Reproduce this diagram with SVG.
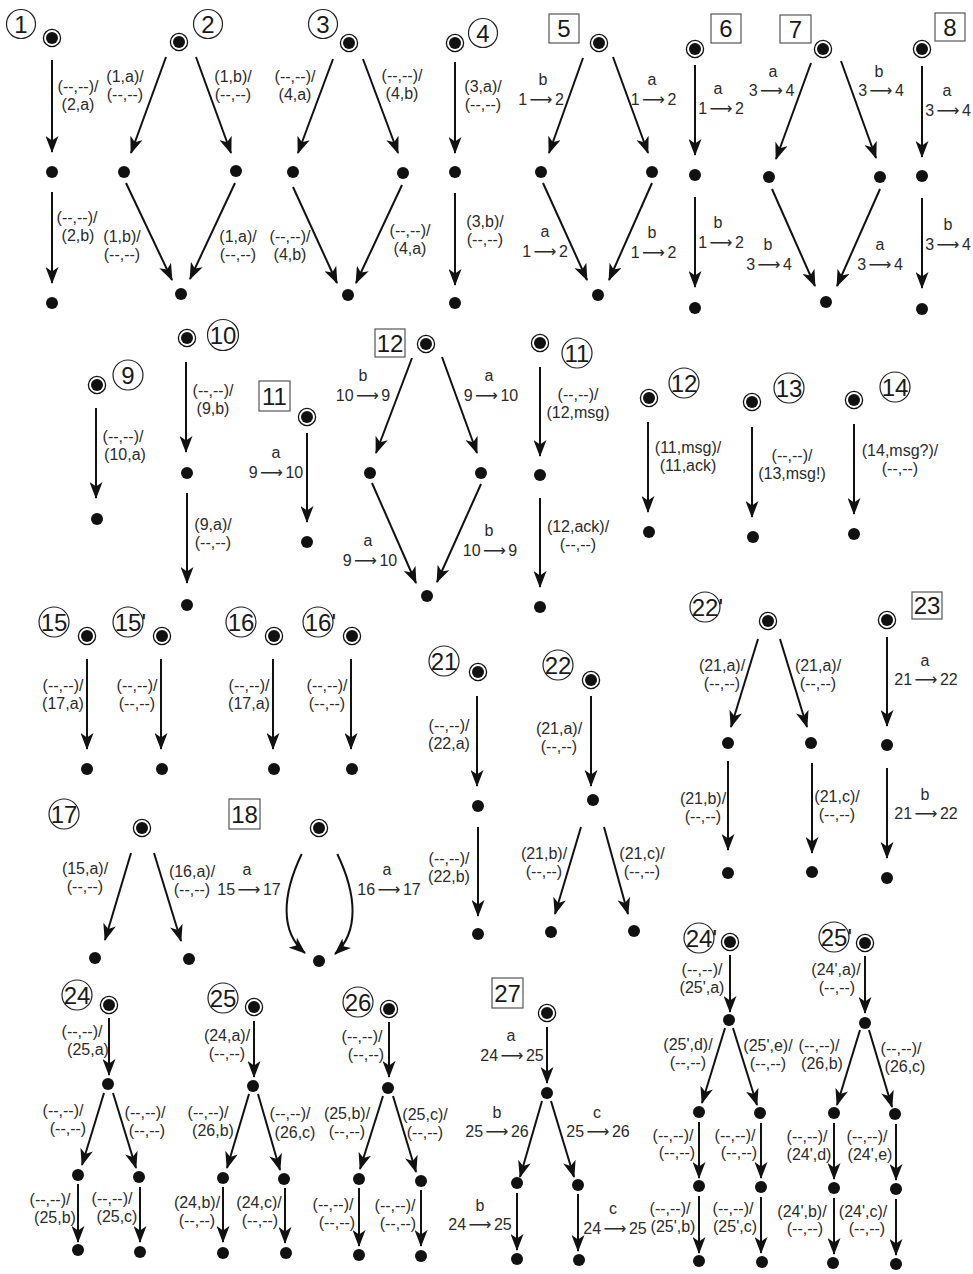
<svg xmlns="http://www.w3.org/2000/svg" xmlns:xlink="http://www.w3.org/1999/xlink" width="973" height="1274" viewBox="0 0 973 1274">
<style>
.t{font-family:"Liberation Sans",Arial,sans-serif;font-size:16px;fill:#2b2b2b;text-anchor:middle}
.w{word-spacing:-2px}
.ar{font-family:"DejaVu Sans",sans-serif;font-size:16px}
.n{font-family:"Liberation Sans",Arial,sans-serif;font-size:24px;fill:#1a1a1a;text-anchor:middle}
.ns{font-family:"Liberation Sans",Arial,sans-serif;font-size:24px;fill:#1a1a1a}
.lc{fill:none;stroke:#222;stroke-width:1.2}
.sq{fill:none;stroke:#555;stroke-width:1.2}
.e{stroke:#111;stroke-width:2;fill:none;marker-end:url(#ah)}
</style>
<defs>
<marker id="ah" viewBox="0 0 17 13" refX="16" refY="6.5" markerWidth="17" markerHeight="13" orient="auto" markerUnits="userSpaceOnUse"><path d="M17,6.5 L0,0 L4.5,6.5 L0,13 Z" fill="#111"/></marker>
<g id="ini"><circle r="8.6" fill="#fff" stroke="#111" stroke-width="1.3"/><circle r="6" fill="#111"/></g>
<circle id="dot" r="6" fill="#111"/>
</defs>
<rect width="973" height="1274" fill="#fff"/>

<g id="labels">
<g id="L1"><circle class="lc" cx="21" cy="24" r="14.5"/><text class="n" x="21" y="32.5">1</text></g>
<g id="L2"><circle class="lc" cx="208" cy="24" r="14.5"/><text class="n" x="208" y="32.5">2</text></g>
<g id="L3"><circle class="lc" cx="323" cy="24" r="14.5"/><text class="n" x="323" y="32.5">3</text></g>
<g id="L4"><circle class="lc" cx="483" cy="33" r="14.5"/><text class="n" x="483" y="41.5">4</text></g>
<g id="L5"><rect class="sq" x="549" y="14" width="30" height="29"/><text class="n" x="564" y="37">5</text></g>
<g id="L6"><rect class="sq" x="711" y="14" width="30" height="29"/><text class="n" x="726" y="37">6</text></g>
<g id="L7"><rect class="sq" x="780" y="15" width="31" height="28"/><text class="n" x="795.5" y="37.5">7</text></g>
<g id="L8"><rect class="sq" x="935" y="13" width="30" height="28"/><text class="n" x="950" y="35.5">8</text></g>
<g id="L9"><circle class="lc" cx="128" cy="375" r="15"/><text class="n" x="128" y="383.5">9</text></g>
<g id="L10"><circle class="lc" cx="223" cy="335" r="15.5"/><text class="n" x="223" y="343.5">10</text></g>
<g id="L11s"><rect class="sq" x="259" y="381" width="31" height="30"/><text class="n" x="274.5" y="404.5">11</text></g>
<g id="L12s"><rect class="sq" x="375" y="329" width="30" height="28"/><text class="n" x="390" y="351.5">12</text></g>
<g id="L11c"><circle class="lc" cx="577" cy="353" r="15"/><text class="n" x="577" y="361.5">11</text></g>
<g id="L12c"><circle class="lc" cx="684" cy="383" r="15"/><text class="n" x="684" y="391.5">12</text></g>
<g id="L13"><circle class="lc" cx="789" cy="388" r="15"/><text class="n" x="789" y="396.5">13</text></g>
<g id="L14"><circle class="lc" cx="895" cy="387" r="15"/><text class="n" x="895" y="395.5">14</text></g>
<g id="L15"><circle class="lc" cx="54" cy="622" r="15"/><text class="n" x="54" y="630.5">15</text></g>
<g id="L15p"><circle class="lc" cx="128" cy="622" r="15"/><text class="ns" x="114.7" y="630.5">15'</text></g>
<g id="L16"><circle class="lc" cx="241" cy="622" r="15"/><text class="n" x="241" y="630.5">16</text></g>
<g id="L16p"><circle class="lc" cx="318" cy="622" r="15"/><text class="ns" x="304.7" y="630.5">16'</text></g>
<g id="L17"><circle class="lc" cx="64" cy="814" r="15"/><text class="n" x="64" y="822.5">17</text></g>
<g id="L18"><rect class="sq" x="229" y="799" width="31" height="30"/><text class="n" x="244.5" y="822.5">18</text></g>
<g id="L21"><circle class="lc" cx="444" cy="661" r="15"/><text class="n" x="444" y="669.5">21</text></g>
<g id="L22"><circle class="lc" cx="558" cy="665" r="15"/><text class="n" x="558" y="673.5">22</text></g>
<g id="L22p"><circle class="lc" cx="705" cy="607" r="15"/><text class="ns" x="691.7" y="615.5">22'</text></g>
<g id="L23"><rect class="sq" x="912" y="592" width="30" height="27"/><text class="n" x="927" y="614">23</text></g>
<g id="L24"><circle class="lc" cx="77" cy="995" r="15"/><text class="n" x="77" y="1003.5">24</text></g>
<g id="L25"><circle class="lc" cx="223" cy="998" r="15"/><text class="n" x="223" y="1006.5">25</text></g>
<g id="L26"><circle class="lc" cx="358" cy="1002" r="15"/><text class="n" x="358" y="1010.5">26</text></g>
<g id="L27"><rect class="sq" x="492" y="978" width="31" height="30"/><text class="n" x="507.5" y="1001.5">27</text></g>
<g id="L24p"><circle class="lc" cx="699" cy="938" r="15"/><text class="ns" x="685.7" y="946.5">24'</text></g>
<g id="L25p"><circle class="lc" cx="834" cy="937" r="15"/><text class="ns" x="820.7" y="945.5">25'</text></g>
</g>

<g id="connectors">
<path class="e" d="M52,60L52,152"/><path class="e" d="M52,192L52,283"/>
<path class="e" d="M166,57L131,153"/><path class="e" d="M196,57L231,153"/><path class="e" d="M126,183L172,280"/><path class="e" d="M235,183L190,279"/>
<path class="e" d="M333,59L298,153"/><path class="e" d="M363,59L398,153"/><path class="e" d="M293,187L337,283"/><path class="e" d="M402,185L356,283"/>
<path class="e" d="M455,62L455,153"/><path class="e" d="M455,193L455,285"/>
<path class="e" d="M583,58L549,153"/><path class="e" d="M613,57L648,153"/><path class="e" d="M543,183L587,280"/><path class="e" d="M652,183L609,280"/>
<path class="e" d="M695,65L695,155"/><path class="e" d="M695,197L695,287"/>
<path class="e" d="M811,63L776,159"/><path class="e" d="M841,61L876,158"/><path class="e" d="M772,189L815,286"/><path class="e" d="M880,189L837,286"/>
<path class="e" d="M922,66L922,157"/><path class="e" d="M922,198L922,288"/>
<path class="e" d="M96,408L96,498"/>
<path class="e" d="M186,362L186,452"/><path class="e" d="M187,493L187,583"/>
<path class="e" d="M307,433L307,522"/>
<path class="e" d="M412,358L376,453"/><path class="e" d="M442,357L477,453"/><path class="e" d="M372,483L416,583"/><path class="e" d="M481,484L437,582"/>
<path class="e" d="M540,367L540,456"/><path class="e" d="M540,498L540,587"/>
<path class="e" d="M648,422L648,512"/>
<path class="e" d="M752,427L752,517"/>
<path class="e" d="M854,424L854,514"/>
<path class="e" d="M87,659L87,749"/><path class="e" d="M161,659L161,749"/><path class="e" d="M273,659L273,749"/><path class="e" d="M351,659L351,749"/>
<path class="e" d="M131,853L105,940"/><path class="e" d="M154,853L181,941"/>
<path class="e" d="M301.7,854C282,895 280,932 305,953"/><path class="e" d="M337.3,854C357,895 359,932 335,954"/>
<path class="e" d="M477,696L477,786"/><path class="e" d="M478,827L478,916"/>
<path class="e" d="M591,696L591,786"/><path class="e" d="M581,827L555,914"/><path class="e" d="M604,827L628,914"/>
<path class="e" d="M758,639L731,727"/><path class="e" d="M780,639L807,727"/><path class="e" d="M728,761L728,850"/><path class="e" d="M812,763L812,853"/>
<path class="e" d="M887,637L887,726"/><path class="e" d="M887,768L887,858"/>
<path class="e" d="M109,1018L109,1075"/><path class="e" d="M104,1093L82,1165"/><path class="e" d="M113,1093L136,1168"/><path class="e" d="M78,1184L78,1242"/><path class="e" d="M140,1187L140,1242"/>
<path class="e" d="M254,1021L254,1077"/><path class="e" d="M249,1094L227,1168"/><path class="e" d="M258,1094L280,1170"/><path class="e" d="M223,1187L223,1242"/><path class="e" d="M285,1188L285,1243"/>
<path class="e" d="M389,1022L389,1077"/><path class="e" d="M383,1096L360,1169"/><path class="e" d="M393,1096L416,1172"/><path class="e" d="M359,1188L359,1246"/><path class="e" d="M421,1190L421,1246"/>
<path class="e" d="M547,1027L547,1083"/><path class="e" d="M542,1101L520,1177"/><path class="e" d="M551,1101L574,1177"/><path class="e" d="M517,1193L517,1250"/><path class="e" d="M578,1194L578,1251"/>
<path class="e" d="M730,955L730,1012"/><path class="e" d="M725,1028L702,1103"/><path class="e" d="M733,1028L757,1105"/><path class="e" d="M699,1122L699,1178"/><path class="e" d="M761,1123L761,1178"/><path class="e" d="M699,1196L699,1253"/><path class="e" d="M761,1197L761,1253"/>
<path class="e" d="M865,956L865,1013"/><path class="e" d="M860,1030L837,1105"/><path class="e" d="M869,1030L892,1107"/><path class="e" d="M834,1123L834,1179"/><path class="e" d="M896,1124L896,1180"/><path class="e" d="M834,1198L834,1254"/><path class="e" d="M896,1199L896,1255"/>
</g>

<g id="edge-labels">
<text class="t" x="78" y="92">(--,--)/</text><text class="t" x="78" y="110">(2,a)</text>
<text class="t" x="77" y="223">(--,--)/</text><text class="t" x="78" y="241">(2,b)</text>
<text class="t" x="125" y="81.5">(1,a)/</text><text class="t" x="125" y="99.5">(--,--)</text>
<text class="t" x="233" y="81.5">(1,b)/</text><text class="t" x="233" y="99.5">(--,--)</text>
<text class="t" x="122" y="241.5">(1,b)/</text><text class="t" x="122" y="259.5">(--,--)</text>
<text class="t" x="238" y="241.5">(1,a)/</text><text class="t" x="238" y="259.5">(--,--)</text>
<text class="t" x="295" y="81.5">(--,--)/</text><text class="t" x="295" y="99.5">(4,a)</text>
<text class="t" x="402" y="80.5">(--,--)/</text><text class="t" x="402" y="98.5">(4,b)</text>
<text class="t" x="290" y="241.5">(--,--)/</text><text class="t" x="290" y="259.5">(4,b)</text>
<text class="t" x="410" y="236">(--,--)/</text><text class="t" x="410" y="254">(4,a)</text>
<text class="t" x="483" y="91.5">(3,a)/</text><text class="t" x="483" y="109.5">(--,--)</text>
<text class="t" x="485" y="226.5">(3,b)/</text><text class="t" x="485" y="244.5">(--,--)</text>
<text class="t" x="543" y="85">b</text><text class="t w" x="541" y="104.5">1 <tspan class="ar">⟶</tspan> 2</text>
<text class="t" x="652" y="85">a</text><text class="t w" x="653.5" y="104.5">1 <tspan class="ar">⟶</tspan> 2</text>
<text class="t" x="545" y="237">a</text><text class="t w" x="545" y="256.5">1 <tspan class="ar">⟶</tspan> 2</text>
<text class="t" x="652" y="238">b</text><text class="t w" x="653.5" y="257.5">1 <tspan class="ar">⟶</tspan> 2</text>
<text class="t" x="718" y="94">a</text><text class="t w" x="721" y="113.5">1 <tspan class="ar">⟶</tspan> 2</text>
<text class="t" x="718" y="228">b</text><text class="t w" x="721" y="247.5">1 <tspan class="ar">⟶</tspan> 2</text>
<text class="t" x="773" y="76.5">a</text><text class="t w" x="771.5" y="96">3 <tspan class="ar">⟶</tspan> 4</text>
<text class="t" x="879" y="76.5">b</text><text class="t w" x="881" y="96">3 <tspan class="ar">⟶</tspan> 4</text>
<text class="t" x="768" y="250">b</text><text class="t w" x="769" y="269.5">3 <tspan class="ar">⟶</tspan> 4</text>
<text class="t" x="880" y="250">a</text><text class="t w" x="880" y="269.5">3 <tspan class="ar">⟶</tspan> 4</text>
<text class="t" x="947" y="96">a</text><text class="t w" x="948" y="115.5">3 <tspan class="ar">⟶</tspan> 4</text>
<text class="t" x="948" y="230">b</text><text class="t w" x="948" y="249.5">3 <tspan class="ar">⟶</tspan> 4</text>
<text class="t" x="123" y="441.5">(--,--)/</text><text class="t" x="125" y="459.5">(10,a)</text>
<text class="t" x="213" y="395.5">(--,--)/</text><text class="t" x="213" y="413.5">(9,b)</text>
<text class="t" x="213" y="529.5">(9,a)/</text><text class="t" x="213" y="547.5">(--,--)</text>
<text class="t" x="276" y="458">a</text><text class="t w" x="276" y="477.5">9 <tspan class="ar">⟶</tspan> 10</text>
<text class="t" x="363" y="381">b</text><text class="t w" x="363" y="400.5">10 <tspan class="ar">⟶</tspan> 9</text>
<text class="t" x="489" y="381">a</text><text class="t w" x="491" y="400.5">9 <tspan class="ar">⟶</tspan> 10</text>
<text class="t" x="368" y="546">a</text><text class="t w" x="370" y="566">9 <tspan class="ar">⟶</tspan> 10</text>
<text class="t" x="489" y="536">b</text><text class="t w" x="490" y="555.5">10 <tspan class="ar">⟶</tspan> 9</text>
<text class="t" x="578" y="399.5">(--,--)/</text><text class="t" x="578" y="417.5">(12,msg)</text>
<text class="t" x="578" y="531.5">(12,ack)/</text><text class="t" x="578" y="549.5">(--,--)</text>
<text class="t" x="688" y="452.5">(11,msg)/</text><text class="t" x="688" y="470.5">(11,ack)</text>
<text class="t" x="792" y="460.5">(--,--)/</text><text class="t" x="792" y="478.5">(13,msg!)</text>
<text class="t" x="900" y="455.5">(14,msg?)/</text><text class="t" x="900" y="473.5">(--,--)</text>
<text class="t" x="63" y="690.5">(--,--)/</text><text class="t" x="63" y="708.5">(17,a)</text>
<text class="t" x="137" y="690.5">(--,--)/</text><text class="t" x="137" y="708.5">(--,--)</text>
<text class="t" x="249" y="690.5">(--,--)/</text><text class="t" x="249" y="708.5">(17,a)</text>
<text class="t" x="327" y="690.5">(--,--)/</text><text class="t" x="327" y="708.5">(--,--)</text>
<text class="t" x="85" y="873.5">(15,a)/</text><text class="t" x="85" y="891.5">(--,--)</text>
<text class="t" x="192" y="877">(16,a)/</text><text class="t" x="192" y="895">(--,--)</text>
<text class="t" x="247" y="875">a</text><text class="t w" x="249" y="894.5">15 <tspan class="ar">⟶</tspan> 17</text>
<text class="t" x="387" y="875">a</text><text class="t w" x="389" y="894.5">16 <tspan class="ar">⟶</tspan> 17</text>
<text class="t" x="449" y="730.5">(--,--)/</text><text class="t" x="449" y="748.5">(22,a)</text>
<text class="t" x="449" y="863.5">(--,--)/</text><text class="t" x="449" y="881.5">(22,b)</text>
<text class="t" x="559" y="733.5">(21,a)/</text><text class="t" x="559" y="751.5">(--,--)</text>
<text class="t" x="544" y="858.5">(21,b)/</text><text class="t" x="544" y="876.5">(--,--)</text>
<text class="t" x="642" y="858.5">(21,c)/</text><text class="t" x="642" y="876.5">(--,--)</text>
<text class="t" x="722" y="670.5">(21,a)/</text><text class="t" x="722" y="688.5">(--,--)</text>
<text class="t" x="818" y="670.5">(21,a)/</text><text class="t" x="818" y="688.5">(--,--)</text>
<text class="t" x="703" y="803.5">(21,b)/</text><text class="t" x="703" y="821.5">(--,--)</text>
<text class="t" x="837" y="801.5">(21,c)/</text><text class="t" x="837" y="819.5">(--,--)</text>
<text class="t" x="925" y="665.5">a</text><text class="t w" x="926" y="685">21 <tspan class="ar">⟶</tspan> 22</text>
<text class="t" x="925" y="799.5">b</text><text class="t w" x="926" y="819">21 <tspan class="ar">⟶</tspan> 22</text>
<text class="t" x="82" y="1036.5">(--,--)/</text><text class="t" x="88" y="1054.5">(25,a)</text>
<text class="t" x="63" y="1115.5">(--,--)/</text><text class="t" x="68" y="1134">(--,--)</text>
<text class="t" x="145" y="1117.5">(--,--)/</text><text class="t" x="147" y="1136">(--,--)</text>
<text class="t" x="50" y="1204.5">(--,--)/</text><text class="t" x="55" y="1222.5">(25,b)</text>
<text class="t" x="112" y="1203.5">(--,--)/</text><text class="t" x="117" y="1222">(25,c)</text>
<text class="t" x="227" y="1040.5">(24,a)/</text><text class="t" x="227" y="1058.5">(--,--)</text>
<text class="t" x="208" y="1117.5">(--,--)/</text><text class="t" x="213" y="1136">(26,b)</text>
<text class="t" x="290" y="1118.5">(--,--)/</text><text class="t" x="295" y="1137.5">(26,c)</text>
<text class="t" x="197" y="1207.5">(24,b)/</text><text class="t" x="197" y="1225.5">(--,--)</text>
<text class="t" x="259" y="1207.5">(24,c)/</text><text class="t" x="260" y="1226">(--,--)</text>
<text class="t" x="362" y="1041.5">(--,--)/</text><text class="t" x="366" y="1059.5">(--,--)</text>
<text class="t" x="347" y="1118.5">(25,b)/</text><text class="t" x="347" y="1136.5">(--,--)</text>
<text class="t" x="425" y="1120">(25,c)/</text><text class="t" x="425" y="1138">(--,--)</text>
<text class="t" x="333" y="1209.5">(--,--)/</text><text class="t" x="337" y="1227.5">(--,--)</text>
<text class="t" x="395" y="1210.5">(--,--)/</text><text class="t" x="398" y="1228.5">(--,--)</text>
<text class="t" x="511" y="1041">a</text><text class="t w" x="512" y="1061">24 <tspan class="ar">⟶</tspan> 25</text>
<text class="t" x="497" y="1117.5">b</text><text class="t w" x="497" y="1137">25 <tspan class="ar">⟶</tspan> 26</text>
<text class="t" x="597" y="1117.5">c</text><text class="t w" x="598" y="1137">25 <tspan class="ar">⟶</tspan> 26</text>
<text class="t" x="480" y="1210.5">b</text><text class="t w" x="480" y="1230">24 <tspan class="ar">⟶</tspan> 25</text>
<text class="t" x="613" y="1214">c</text><text class="t w" x="615" y="1234">24 <tspan class="ar">⟶</tspan> 25</text>
<text class="t" x="702" y="974.5">(--,--)/</text><text class="t" x="702" y="992.5">(25',a)</text>
<text class="t" x="688" y="1049.5">(25',d)/</text><text class="t" x="688" y="1068">(--,--)</text>
<text class="t" x="768" y="1051">(25',e)/</text><text class="t" x="768" y="1069">(--,--)</text>
<text class="t" x="673" y="1140.5">(--,--)/</text><text class="t" x="677" y="1158">(--,--)</text>
<text class="t" x="735" y="1140.5">(--,--)/</text><text class="t" x="739" y="1158">(--,--)</text>
<text class="t" x="670" y="1213.5">(--,--)/</text><text class="t" x="673" y="1232">(25',b)</text>
<text class="t" x="733" y="1213.5">(--,--)/</text><text class="t" x="735" y="1232">(25',c)</text>
<text class="t" x="836" y="974.5">(24',a)/</text><text class="t" x="837" y="992.5">(--,--)</text>
<text class="t" x="819" y="1050.5">(--,--)/</text><text class="t" x="822" y="1069">(26,b)</text>
<text class="t" x="901" y="1053.5">(--,--)/</text><text class="t" x="905" y="1072">(26,c)</text>
<text class="t" x="807" y="1141.5">(--,--)/</text><text class="t" x="809" y="1159.5">(24',d)</text>
<text class="t" x="867" y="1141.5">(--,--)/</text><text class="t" x="870" y="1159.5">(24',e)</text>
<text class="t" x="802" y="1216.5">(24',b)/</text><text class="t" x="805" y="1234">(--,--)</text>
<text class="t" x="863" y="1216.5">(24',c)/</text><text class="t" x="867" y="1234">(--,--)</text>
</g>

<g id="nodes">
<g id="g1-0"><use xlink:href="#ini" x="52" y="38"/></g><g id="g1-1"><use xlink:href="#dot" x="52" y="172"/></g><g id="g1-2"><use xlink:href="#dot" x="52" y="303"/></g>
<g id="g2-0"><use xlink:href="#ini" x="179" y="42"/></g><g id="g2-1"><use xlink:href="#dot" x="124" y="172"/></g><g id="g2-2"><use xlink:href="#dot" x="236" y="171"/></g><g id="g2-3"><use xlink:href="#dot" x="181" y="294"/></g>
<g id="g3-0"><use xlink:href="#ini" x="349" y="43"/></g><g id="g3-1"><use xlink:href="#dot" x="293" y="172"/></g><g id="g3-2"><use xlink:href="#dot" x="403" y="173"/></g><g id="g3-3"><use xlink:href="#dot" x="348" y="295"/></g>
<g id="g4-0"><use xlink:href="#ini" x="455" y="43"/></g><g id="g4-1"><use xlink:href="#dot" x="455" y="172"/></g><g id="g4-2"><use xlink:href="#dot" x="455" y="303"/></g>
<g id="g5-0"><use xlink:href="#ini" x="599" y="43"/></g><g id="g5-1"><use xlink:href="#dot" x="541" y="172"/></g><g id="g5-2"><use xlink:href="#dot" x="652" y="172"/></g><g id="g5-3"><use xlink:href="#dot" x="598" y="295"/></g>
<g id="g6-0"><use xlink:href="#ini" x="695" y="49"/></g><g id="g6-1"><use xlink:href="#dot" x="695" y="175"/></g><g id="g6-2"><use xlink:href="#dot" x="695" y="308"/></g>
<g id="g7-0"><use xlink:href="#ini" x="823" y="49"/></g><g id="g7-1"><use xlink:href="#dot" x="769" y="177"/></g><g id="g7-2"><use xlink:href="#dot" x="880" y="177"/></g><g id="g7-3"><use xlink:href="#dot" x="826" y="302"/></g>
<g id="g8-0"><use xlink:href="#ini" x="922" y="49"/></g><g id="g8-1"><use xlink:href="#dot" x="922" y="176"/></g><g id="g8-2"><use xlink:href="#dot" x="922" y="309"/></g>
<g id="g9-0"><use xlink:href="#ini" x="97" y="385"/></g><g id="g9-1"><use xlink:href="#dot" x="97" y="519"/></g>
<g id="g10-0"><use xlink:href="#ini" x="187" y="338"/></g><g id="g10-1"><use xlink:href="#dot" x="187" y="473"/></g><g id="g10-2"><use xlink:href="#dot" x="187" y="605"/></g>
<g id="g11s-0"><use xlink:href="#ini" x="307" y="417"/></g><g id="g11s-1"><use xlink:href="#dot" x="307" y="542"/></g>
<g id="g12s-0"><use xlink:href="#ini" x="426" y="344"/></g><g id="g12s-1"><use xlink:href="#dot" x="370" y="473"/></g><g id="g12s-2"><use xlink:href="#dot" x="481" y="473"/></g><g id="g12s-3"><use xlink:href="#dot" x="427" y="596"/></g>
<g id="g11c-0"><use xlink:href="#ini" x="540" y="343"/></g><g id="g11c-1"><use xlink:href="#dot" x="540" y="475"/></g><g id="g11c-2"><use xlink:href="#dot" x="540" y="607"/></g>
<g id="g12c-0"><use xlink:href="#ini" x="649" y="398"/></g><g id="g12c-1"><use xlink:href="#dot" x="649" y="532"/></g>
<g id="g13-0"><use xlink:href="#ini" x="752" y="402"/></g><g id="g13-1"><use xlink:href="#dot" x="753" y="537"/></g>
<g id="g14-0"><use xlink:href="#ini" x="854" y="400"/></g><g id="g14-1"><use xlink:href="#dot" x="854" y="534"/></g>
<g id="g15-0"><use xlink:href="#ini" x="87" y="636"/></g><g id="g15-1"><use xlink:href="#dot" x="87" y="769"/></g>
<g id="g15p-0"><use xlink:href="#ini" x="162" y="636"/></g><g id="g15p-1"><use xlink:href="#dot" x="162" y="769"/></g>
<g id="g16-0"><use xlink:href="#ini" x="274" y="636"/></g><g id="g16-1"><use xlink:href="#dot" x="274" y="769"/></g>
<g id="g16p-0"><use xlink:href="#ini" x="352" y="636"/></g><g id="g16p-1"><use xlink:href="#dot" x="352" y="769"/></g>
<g id="g17-0"><use xlink:href="#ini" x="142" y="828"/></g><g id="g17-1"><use xlink:href="#dot" x="95" y="958"/></g><g id="g17-2"><use xlink:href="#dot" x="189" y="959"/></g>
<g id="g18-0"><use xlink:href="#ini" x="319" y="828"/></g><g id="g18-1"><use xlink:href="#dot" x="319" y="961"/></g>
<g id="g21-0"><use xlink:href="#ini" x="478" y="672"/></g><g id="g21-1"><use xlink:href="#dot" x="478" y="806"/></g><g id="g21-2"><use xlink:href="#dot" x="478" y="934"/></g>
<g id="g22-0"><use xlink:href="#ini" x="591" y="680"/></g><g id="g22-1"><use xlink:href="#dot" x="593" y="800"/></g><g id="g22-2"><use xlink:href="#dot" x="551" y="932"/></g><g id="g22-3"><use xlink:href="#dot" x="634" y="931"/></g>
<g id="g22p-0"><use xlink:href="#ini" x="768" y="621"/></g><g id="g22p-1"><use xlink:href="#dot" x="728" y="743"/></g><g id="g22p-2"><use xlink:href="#dot" x="811" y="743"/></g><g id="g22p-3"><use xlink:href="#dot" x="728" y="873"/></g><g id="g22p-4"><use xlink:href="#dot" x="812" y="872"/></g>
<g id="g23-0"><use xlink:href="#ini" x="887" y="620"/></g><g id="g23-1"><use xlink:href="#dot" x="887" y="745"/></g><g id="g23-2"><use xlink:href="#dot" x="887" y="878"/></g>
<g id="g24-0"><use xlink:href="#ini" x="109" y="1005"/></g><g id="g24-1"><use xlink:href="#dot" x="108" y="1084"/></g><g id="g24-2"><use xlink:href="#dot" x="78" y="1175"/></g><g id="g24-3"><use xlink:href="#dot" x="139" y="1177"/></g><g id="g24-4"><use xlink:href="#dot" x="78" y="1250"/></g><g id="g24-5"><use xlink:href="#dot" x="140" y="1252"/></g>
<g id="g25-0"><use xlink:href="#ini" x="254" y="1007"/></g><g id="g25-1"><use xlink:href="#dot" x="253" y="1086"/></g><g id="g25-2"><use xlink:href="#dot" x="223" y="1178"/></g><g id="g25-3"><use xlink:href="#dot" x="284" y="1179"/></g><g id="g25-4"><use xlink:href="#dot" x="223" y="1253"/></g><g id="g25-5"><use xlink:href="#dot" x="286" y="1253"/></g>
<g id="g26-0"><use xlink:href="#ini" x="389" y="1009"/></g><g id="g26-1"><use xlink:href="#dot" x="388" y="1088"/></g><g id="g26-2"><use xlink:href="#dot" x="359" y="1179"/></g><g id="g26-3"><use xlink:href="#dot" x="421" y="1181"/></g><g id="g26-4"><use xlink:href="#dot" x="359" y="1255"/></g><g id="g26-5"><use xlink:href="#dot" x="421" y="1256"/></g>
<g id="g27-0"><use xlink:href="#ini" x="547" y="1013"/></g><g id="g27-1"><use xlink:href="#dot" x="547" y="1093"/></g><g id="g27-2"><use xlink:href="#dot" x="517" y="1183"/></g><g id="g27-3"><use xlink:href="#dot" x="578" y="1185"/></g><g id="g27-4"><use xlink:href="#dot" x="517" y="1259"/></g><g id="g27-5"><use xlink:href="#dot" x="579" y="1260"/></g>
<g id="g24p-0"><use xlink:href="#ini" x="730" y="942"/></g><g id="g24p-1"><use xlink:href="#dot" x="729" y="1020"/></g><g id="g24p-2"><use xlink:href="#dot" x="699" y="1112"/></g><g id="g24p-3"><use xlink:href="#dot" x="760" y="1113"/></g><g id="g24p-4"><use xlink:href="#dot" x="699" y="1186"/></g><g id="g24p-5"><use xlink:href="#dot" x="761" y="1187"/></g><g id="g24p-6"><use xlink:href="#dot" x="699" y="1261"/></g><g id="g24p-7"><use xlink:href="#dot" x="762" y="1262"/></g>
<g id="g25p-0"><use xlink:href="#ini" x="865" y="943"/></g><g id="g25p-1"><use xlink:href="#dot" x="865" y="1023"/></g><g id="g25p-2"><use xlink:href="#dot" x="834" y="1113"/></g><g id="g25p-3"><use xlink:href="#dot" x="895" y="1114"/></g><g id="g25p-4"><use xlink:href="#dot" x="834" y="1188"/></g><g id="g25p-5"><use xlink:href="#dot" x="896" y="1189"/></g><g id="g25p-6"><use xlink:href="#dot" x="833" y="1263"/></g><g id="g25p-7"><use xlink:href="#dot" x="896" y="1264"/></g>
</g>
</svg>
